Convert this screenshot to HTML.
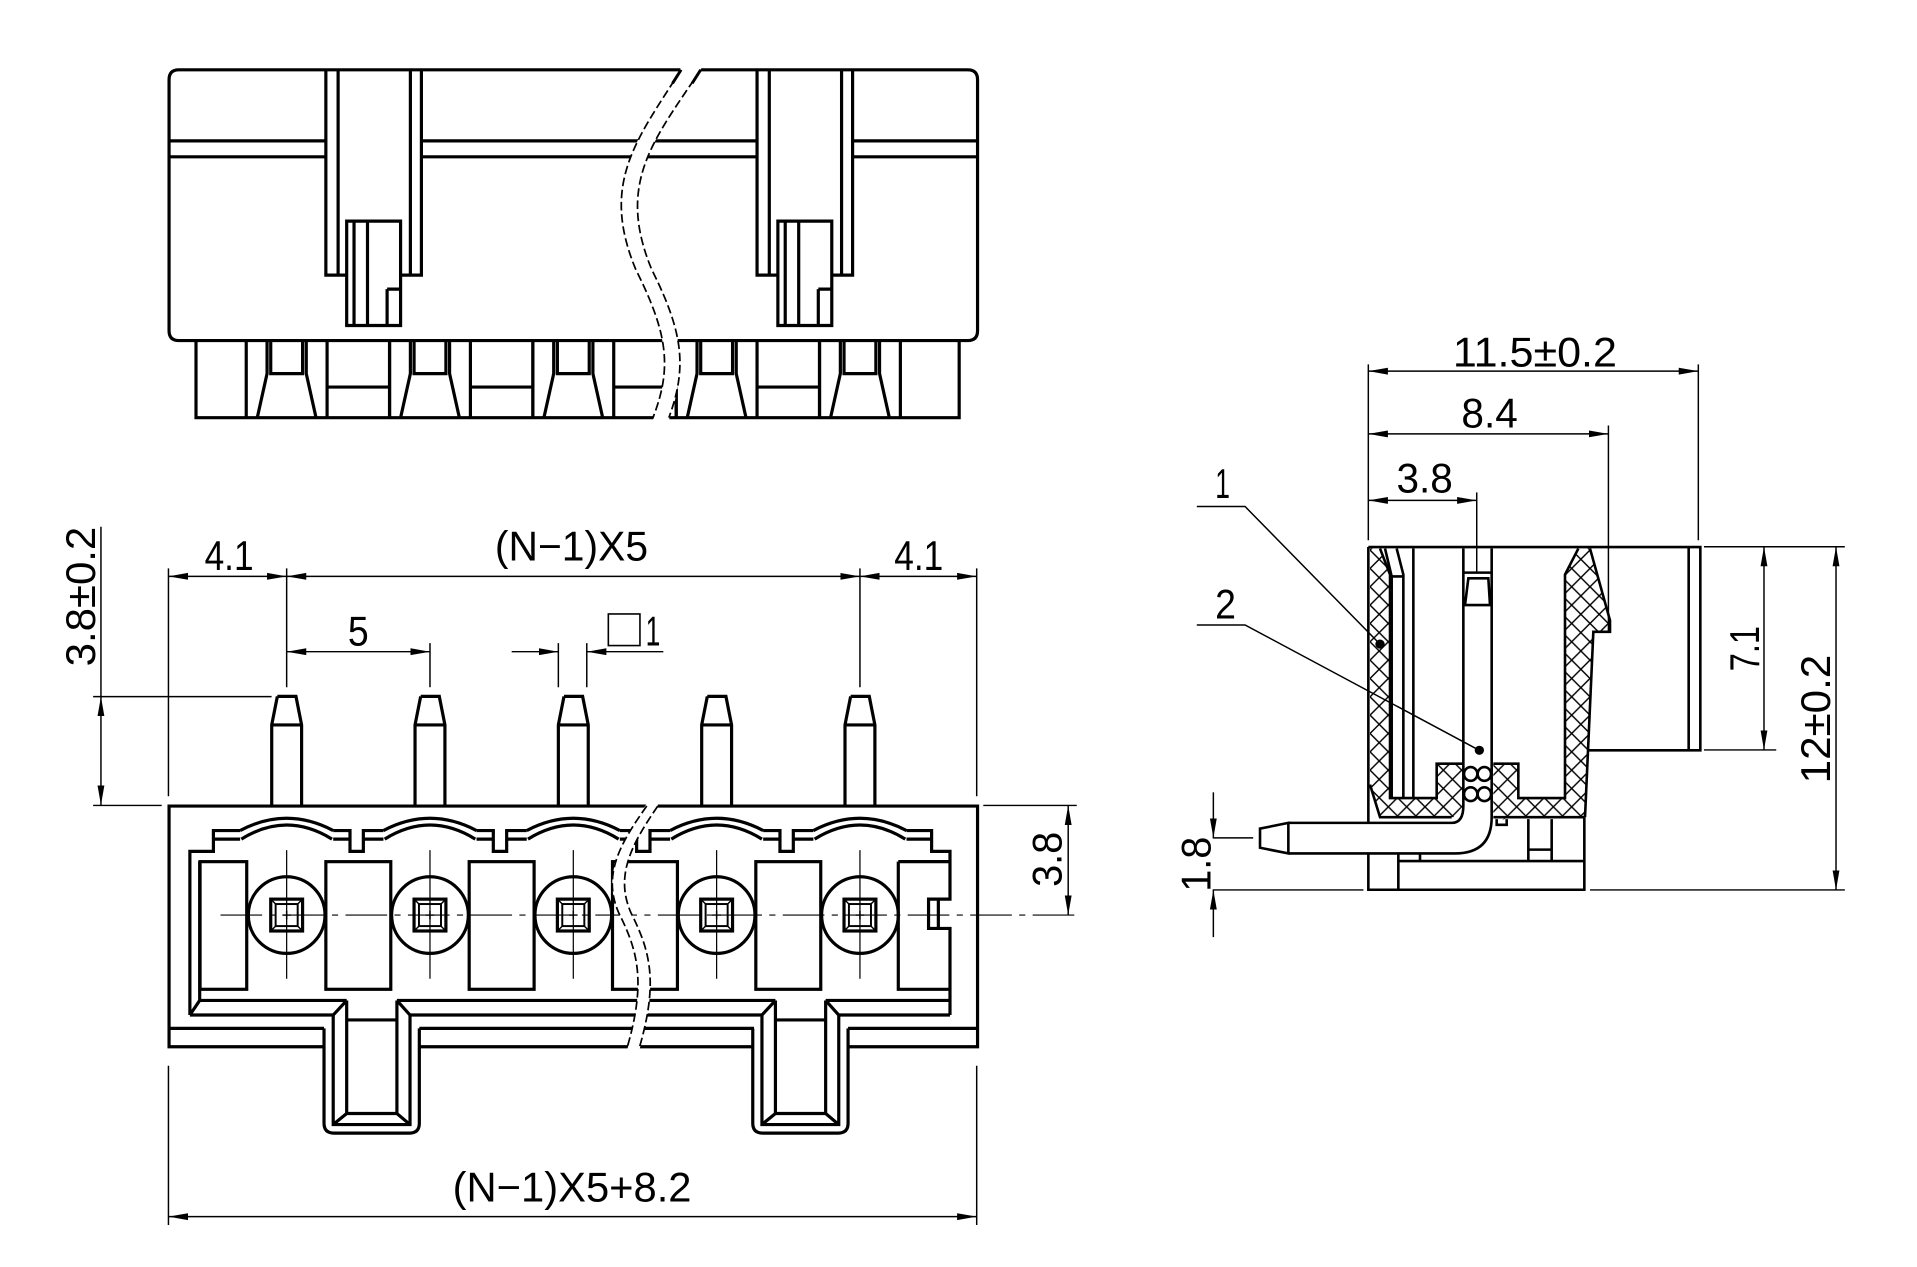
<!DOCTYPE html>
<html><head><meta charset="utf-8">
<style>
html,body{margin:0;padding:0;background:#fff;}
svg{display:block;}
text{font-family:"Liberation Sans",sans-serif;font-size:34px;fill:#000;}
</style></head>
<body>
<svg width="1917" height="1267" viewBox="0 0 1564.9 1034.3" xmlns="http://www.w3.org/2000/svg">
<defs>
<marker id="ar" markerUnits="userSpaceOnUse" markerWidth="18" markerHeight="8" refX="16" refY="4" orient="auto-start-reverse" viewBox="0 0 18 8">
<path d="M0,1.2 L16,4 L0,6.8 Z" fill="#000"/>
</marker>
<pattern id="hatch2" patternUnits="userSpaceOnUse" width="55" height="48">
<path d="M0,0 L55,48 M55,0 L0,48" stroke="#000" stroke-width="4" fill="none"/>
</pattern>
</defs>

<g fill="none" stroke="#000" stroke-width="2.6" stroke-linejoin="miter">
<!-- ================= TOP VIEW ================= -->
<path d="M556,57 H146 Q138,57 138,65 V270 Q138,278 146,278 H790 Q798,278 798,270 V65 Q798,57 790,57 H572"/>
<path d="M138,115 H266 M138,128 H266 M344,115 H618 M344,128 H618 M696,115 H798 M696,128 H798"/>
<g id="ttab">
<path d="M266,57 V224.6 H283 M327,224.6 H344 V57 M276,57 V224.6 M335,57 V224.6"/>
<path d="M283,180.5 H327 V265.7 H283 Z M289,180.5 V265.7 M300,180.5 V265.7 M316,236 V265.7 M316,236 H327"/>
</g>
<use href="#ttab" transform="translate(352 0)"/>
<!-- teeth -->
<path d="M160,278 V341 H783 V278"/>
<g id="tooth">
<path d="M201,278 V341 M267,278 V341 M218,278 V305 L210,341 M250,278 V305 L258,341 M221,278 V305 H247 V278"/>
</g>
<use href="#tooth" transform="translate(117 0)"/>
<use href="#tooth" transform="translate(234 0)"/>
<use href="#tooth" transform="translate(351 0)"/>
<use href="#tooth" transform="translate(468 0)"/>
<path d="M267,316 H318 V278 M318,341 V316 M384,316 H435 M435,278 V341 M501,316 H552 M552,278 V341 M618,316 H669 M669,278 V341"/>
<!-- break band top -->
<path d="M556,55 C519,115 490,150 519,220 C545,272 549,300 533,343 L546,343 C561,300 558,272 532,220 C503,150 533,115 573,55 Z" fill="#fff" stroke="none"/>
<path d="M556,57 C519,115 490,150 519,220 C545,272 549,300 533,341" stroke-width="1.4" stroke-dasharray="7,3"/>
<path d="M572,57 C533,115 503,150 532,220 C558,272 561,300 546,341" stroke-width="1.4" stroke-dasharray="7,3"/>
<path d="M556,57 L549,68 M572,57 L565,68" stroke-width="2.4"/>

<!-- ================= BOTTOM VIEW ================= -->
<path d="M528,658 H138 V854.5 H264.5 M537,658 H798 V854.5 H692.3"/>
<path d="M138,839.5 H264.5 M342.3,839.5 H615.5 M692.3,839.5 H798 M342.3,854.5 H615.5"/>
<g id="btab">
<path d="M264.5,839.5 V917 Q264.5,925 272.5,925 H334.3 Q342.3,925 342.3,917 V839.5"/>
<path d="M272,828.6 V918 H334.7 V828.6 M283,816.7 V909 H324 V816.7 M272,828.6 L283,816.7 M334.7,828.6 L324,816.7 M272,918 L283,909 M334.7,918 L324,909 M283,832.6 H324"/>
</g>
<use href="#btab" transform="translate(350 0)"/>
<path d="M163,816.7 H283 M155,828.6 H272 M324,816.7 H633 M334.7,828.6 H622 M674,816.7 H775.5 M684.7,828.6 H775.5"/>
<path d="M155,828.6 V695 H174.2 V678 H196 M174.2,685 H196 M163,816.7 V703 M155,828.6 L163,816.7"/>
<path d="M775.5,828.6 V757.9 H758 V734 H775.5 V695 H760.5 V678 H740 M760.5,685 H740 M766,734 V757.9"/>
<g id="bpin">
<path d="M226.4,568.5 H241.6 L246.2,591.8 V658 M221.8,658 V591.8 L226.4,568.5 M221.8,591.8 H246.2"/>
<path d="M196,678 Q234,658 272,678 M197,685 Q234,662 271,685"/>
<circle cx="234" cy="747" r="31.3"/>
<rect x="221" y="734" width="26" height="26"/>
<rect x="225" y="738" width="18" height="18" stroke-width="1.6"/>
<path d="M221,734 L225,738 M247,734 L243,738 M221,760 L225,756 M247,760 L243,756 M234,743.5 V750.5 M230.5,747 H237.5" stroke-width="1.2"/>
<path d="M234,694 V799" stroke-width="1"/>
</g>
<g id="bmid">
<path d="M272,678 H285.7 V695 H296.6 V678 H313 M272,685 H285.7 M296.6,685 H313"/>
<rect x="266" y="703.4" width="53" height="104.2"/>
</g>
<use href="#bpin" transform="translate(117 0)"/>
<use href="#bpin" transform="translate(234 0)"/>
<use href="#bpin" transform="translate(351 0)"/>
<use href="#bpin" transform="translate(468 0)"/>
<use href="#bmid" transform="translate(117 0)"/>
<use href="#bmid" transform="translate(234 0)"/>
<use href="#bmid" transform="translate(351 0)"/>
<rect x="163.3" y="703.4" width="38.1" height="104.2"/>
<path d="M733.3,703.4 H775.5 M733.3,703.4 V807.6 H775.5"/>
<!-- centerline -->
<path d="M180,747 H879" stroke-width="1" stroke-dasharray="34,6,5,6"/>
<!-- break band bottom -->
<path d="M528,656 C505,690 492,715 505,745 C520,775 528,800 512,857 L522,857 C538,800 530,775 515,745 C502,715 515,690 537,656 Z" fill="#fff" stroke="none"/>
<path d="M528,658 C505,690 492,715 505,745 C520,775 528,800 512,855" stroke-width="1.4" stroke-dasharray="7,3"/>
<path d="M537,658 C515,690 502,715 515,745 C530,775 538,800 522,855" stroke-width="1.4" stroke-dasharray="7,3"/>

<!-- dimensions bottom view -->
<g stroke-width="1.2">
<path d="M137.5,464 V650 M234,464 V561 M702,464 V561 M797.3,464 V650"/>
<path d="M137.5,470.5 H234" marker-start="url(#ar)" marker-end="url(#ar)"/>
<path d="M234,470.5 H702" marker-start="url(#ar)" marker-end="url(#ar)"/>
<path d="M702,470.5 H797.3" marker-start="url(#ar)" marker-end="url(#ar)"/>
<path d="M351,525 V561"/>
<path d="M234,532 H351" marker-start="url(#ar)" marker-end="url(#ar)"/>
<path d="M455.8,525 V561 M479,525 V561"/>
<path d="M417.7,532 H455.8" marker-end="url(#ar)"/>
<path d="M541.5,532 H479" marker-end="url(#ar)"/>
<path d="M76,568.7 H221.7 M76,657.5 H132"/>
<path d="M82.4,430 V568.7"/>
<path d="M82.4,568.7 V657.2" marker-start="url(#ar)" marker-end="url(#ar)"/>
<path d="M802.7,657.5 H879"/>
<path d="M872,657.5 V747" marker-start="url(#ar)" marker-end="url(#ar)"/>
<path d="M137.5,870 V1000 M797.3,870 V1000"/>
<path d="M137.5,993.2 H797.3" marker-start="url(#ar)" marker-end="url(#ar)"/>
</g>
<rect x="496.6" y="501.2" width="25.8" height="25.8" stroke-width="1.3"/>
</g>

<text x="167" y="465.3" textLength="40" lengthAdjust="spacingAndGlyphs">4.1</text>
<text x="730" y="465.3" textLength="40" lengthAdjust="spacingAndGlyphs">4.1</text>
<text x="404" y="457.7" textLength="125" lengthAdjust="spacingAndGlyphs">(N−1)X5</text>
<text x="284" y="527" textLength="17" lengthAdjust="spacingAndGlyphs">5</text>
<text x="527" y="527" textLength="12" lengthAdjust="spacingAndGlyphs">1</text>
<text x="369.5" y="981" textLength="195" lengthAdjust="spacingAndGlyphs">(N−1)X5+8.2</text>
<text transform="translate(77.5 544) rotate(-90)" textLength="114" lengthAdjust="spacingAndGlyphs">3.8±0.2</text>
<text transform="translate(866.7 724) rotate(-90)" textLength="45" lengthAdjust="spacingAndGlyphs">3.8</text>

<!-- ================= SIDE VIEW ================= -->
<g transform="translate(938.8 269.4) scale(0.2721 0.3119)">
<polygon points="660,572 695,572 720,640 720,1225 860,1225 860,1135 940,1135 940,1245 910,1275 690,1275 660,1190" fill="url(#hatch2)" stroke="none"/>
<polygon points="1030,1135 1105,1135 1105,1225 1245,1225 1245,640 1285,572 1320,572 1380,760 1380,790 1330,790 1305,1275 1075,1275 1040,1290 1030,1270" fill="url(#hatch2)" stroke="none"/>
<g fill="none" stroke="#000" stroke-width="2.6" stroke-linejoin="miter">
<path vector-effect="non-scaling-stroke" d="M655,568 H1651 V1100 H1315"/>
<path vector-effect="non-scaling-stroke" d="M1616,568 V1100"/>
<path vector-effect="non-scaling-stroke" d="M655,568 V1290 M655,1370 V1465 H1303 V1275"/>
<path vector-effect="non-scaling-stroke" d="M690,572 L720,640 V1225 H860 V1135 H940 M660,1190 L690,1275 H905 M1030,1275 H1303"/>
<path vector-effect="non-scaling-stroke" d="M705,572 L725,645 V1225 M740,572 L760,640 V1225 M725,645 H760 M790,572 V1225"/>
<path vector-effect="non-scaling-stroke" d="M1030,1135 H1105 V1225 H1245 V640 L1285,572 M1320,572 L1380,760 V790 H1330 L1305,1275"/>
<path vector-effect="non-scaling-stroke" d="M940,572 V1145 M1025,572 V1145 M940,635 H1025 M955,650 H1015 L1020,720 H945 Z"/>
<path vector-effect="non-scaling-stroke" d="M415,1290 H905 Q940,1290 940,1245 V1145 M415,1370 H915 Q1025,1370 1025,1275 V1145 M415,1290 L330,1305 V1355 L415,1370 Z"/>
<path vector-effect="non-scaling-stroke" d="M745,1390 H1303 M745,1370 V1465 M810,1370 V1390 M1135,1280 V1390 M1205,1280 V1390 M1135,1360 H1205 M1040,1280 V1295 H1070 V1280"/>
<ellipse cx="962" cy="1162" rx="20" ry="18" vector-effect="non-scaling-stroke"/>
<ellipse cx="1003" cy="1162" rx="20" ry="18" vector-effect="non-scaling-stroke"/>
<ellipse cx="962" cy="1215" rx="20" ry="18" vector-effect="non-scaling-stroke"/>
<ellipse cx="1003" cy="1215" rx="20" ry="18" vector-effect="non-scaling-stroke"/>
</g>
<ellipse cx="690" cy="822" rx="14" ry="12" fill="#000"/>
<ellipse cx="988" cy="1100" rx="14" ry="12" fill="#000"/>
</g>

<!-- side view dims (display coords) -->
<g fill="none" stroke="#000" stroke-width="1.2">
<path d="M1117,297.5 V441 M1386.4,297.5 V441"/>
<path d="M1117,303 H1386.4" marker-start="url(#ar)" marker-end="url(#ar)"/>
<path d="M1313,347.4 V515.8"/>
<path d="M1117,354.2 H1313" marker-start="url(#ar)" marker-end="url(#ar)"/>
<path d="M1205.5,402 V467.5"/>
<path d="M1117,408.5 H1205.5" marker-start="url(#ar)" marker-end="url(#ar)"/>
<path d="M977,413.5 H1016.4 L1126.5,525.8"/>
<path d="M977,510.2 H1016.4 L1207.6,612.5"/>
<path d="M1391,446.3 H1506 M1391,612.2 H1450 M990,726.5 H1113 M1298,726.5 H1506 M990,684 H1023"/>
<path d="M1440,446.3 V612.2" marker-start="url(#ar)" marker-end="url(#ar)"/>
<path d="M1498.8,446.3 V726.5" marker-start="url(#ar)" marker-end="url(#ar)"/>
<path d="M990.5,646.8 V684" marker-end="url(#ar)"/>
<path d="M990.5,765 V726.5" marker-end="url(#ar)"/>
</g>
<text x="1186" y="299" textLength="134" lengthAdjust="spacingAndGlyphs">11.5±0.2</text>
<text x="1193" y="349" textLength="46" lengthAdjust="spacingAndGlyphs">8.4</text>
<text x="1140" y="402" textLength="46" lengthAdjust="spacingAndGlyphs">3.8</text>
<text x="992" y="406.6" textLength="12" lengthAdjust="spacingAndGlyphs">1</text>
<text x="992" y="505" textLength="17" lengthAdjust="spacingAndGlyphs">2</text>
<text transform="translate(1436 548) rotate(-90)" textLength="37" lengthAdjust="spacingAndGlyphs">7.1</text>
<text transform="translate(1494 639.5) rotate(-90)" textLength="105" lengthAdjust="spacingAndGlyphs">12±0.2</text>
<text transform="translate(988 728) rotate(-90)" textLength="45" lengthAdjust="spacingAndGlyphs">1.8</text>
</svg>
</body></html>
